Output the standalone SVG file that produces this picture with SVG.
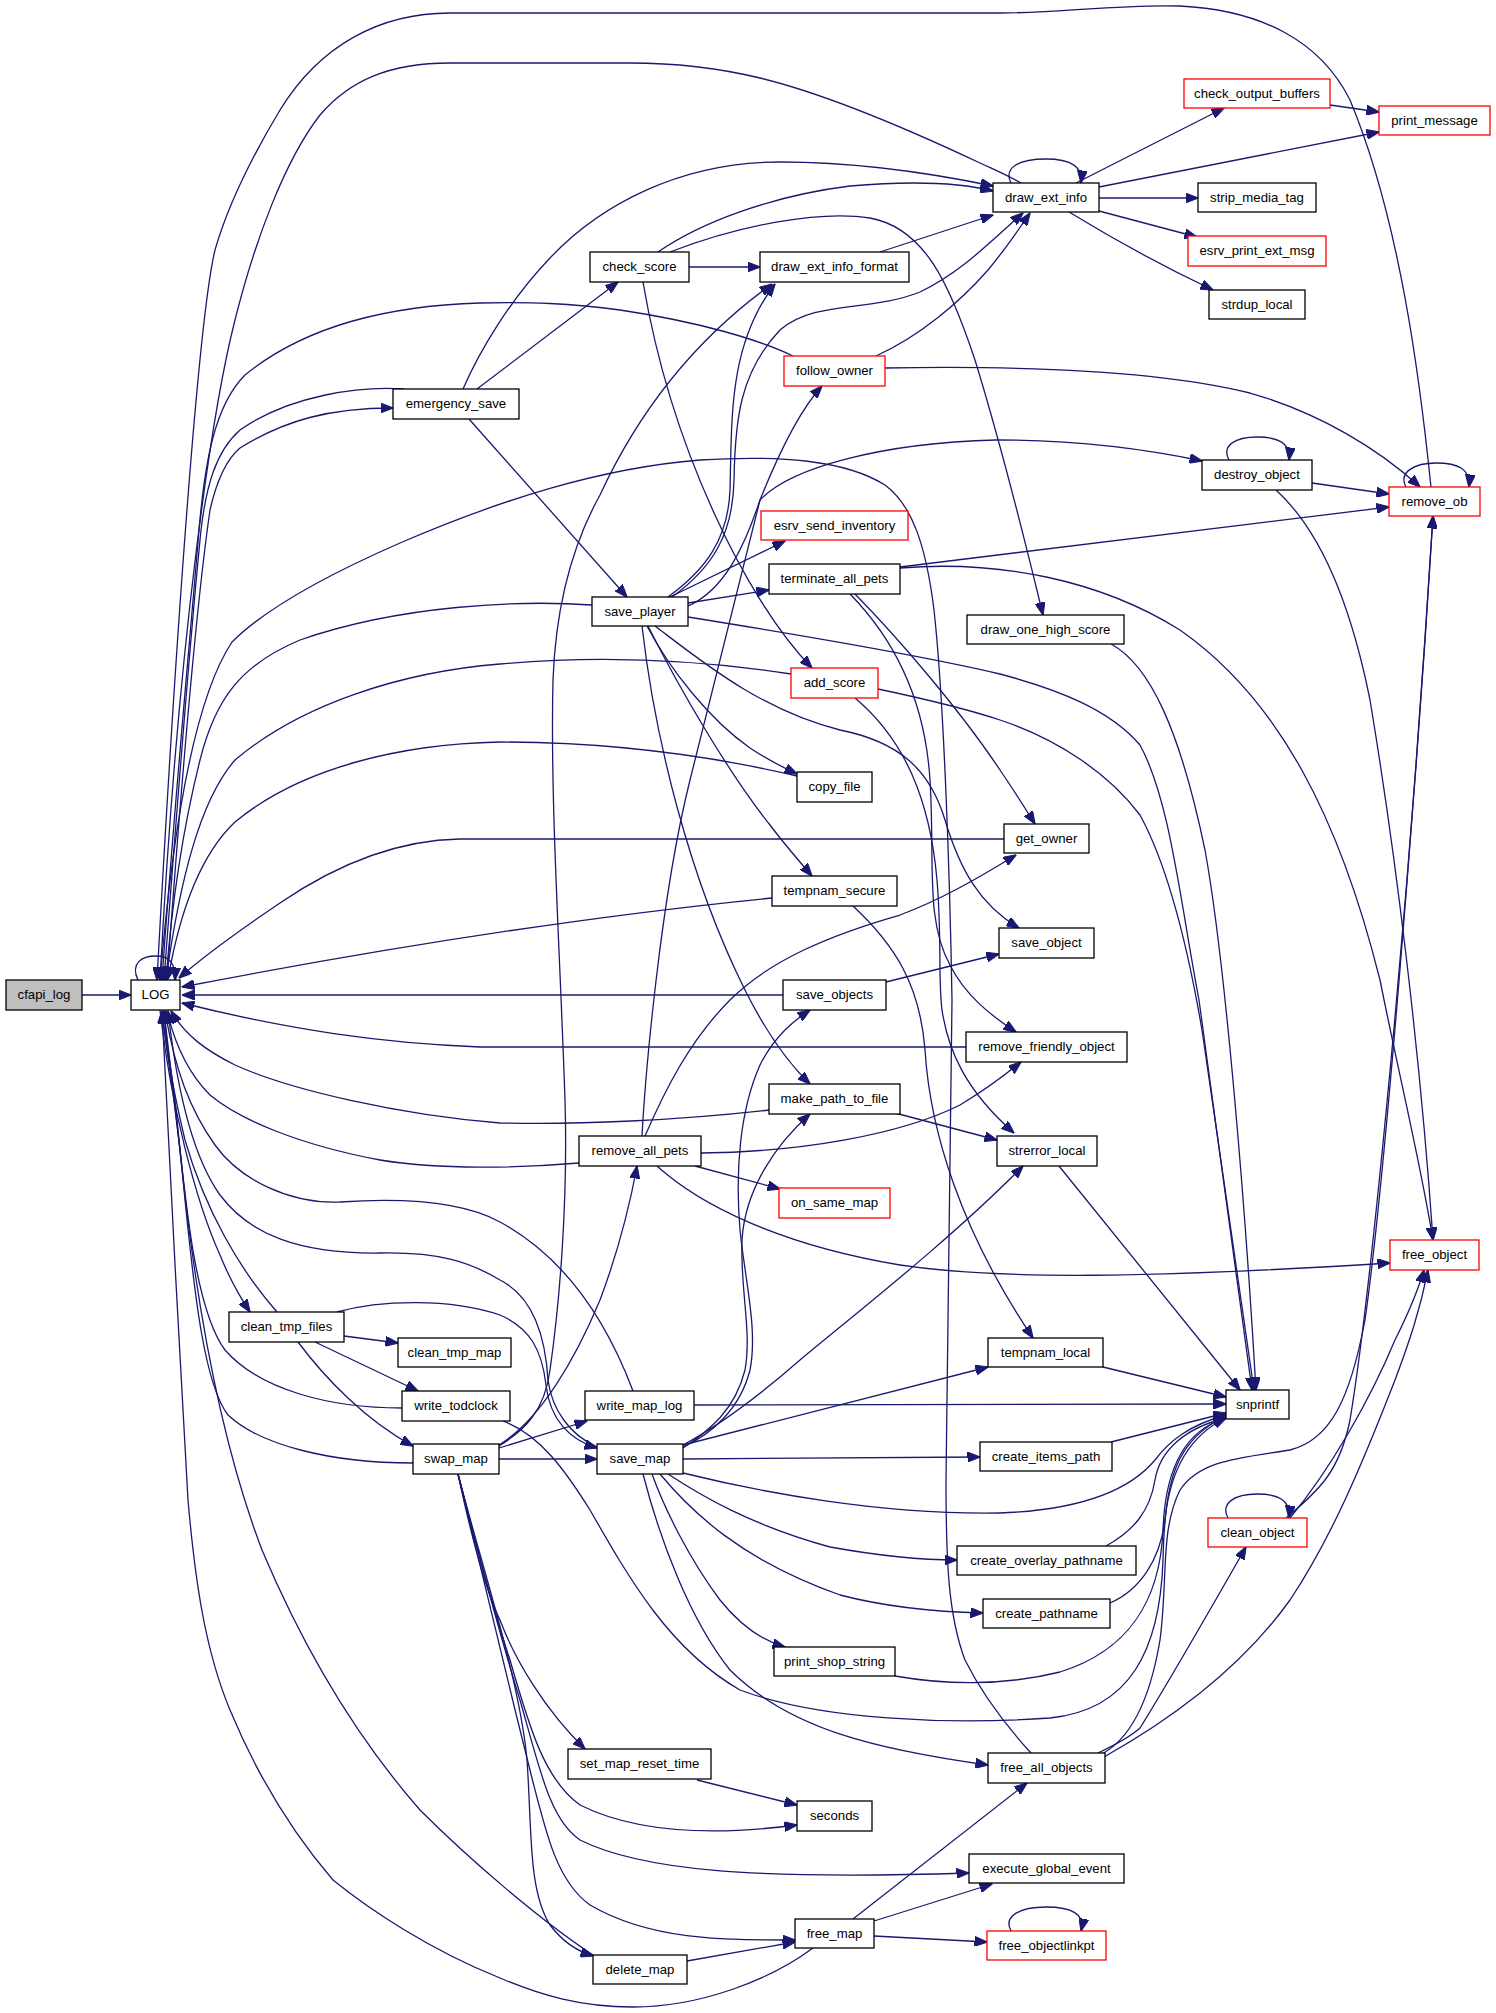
<svg xmlns="http://www.w3.org/2000/svg" width="1496" height="2013" viewBox="0 0 1496 2013">
<defs>
<marker id="a" viewBox="0 0 13 10" markerWidth="13" markerHeight="10" refX="12.5" refY="5" orient="auto" markerUnits="userSpaceOnUse"><path d="M0,0L13,5L0,10z" fill="#191970" stroke="#191970" stroke-width="1"/></marker>
</defs>
<style>
.n rect{fill:#fff;stroke:#000;stroke-width:1.3}
.n.r rect{stroke:#ff0000}
.n.g rect{fill:#bfbfbf}
.n text{font-family:"Liberation Sans",Arial,Helvetica,sans-serif;font-size:13.2px;text-anchor:middle;fill:#000}
#edges path{fill:none;stroke:#191970;stroke-width:1.3;marker-end:url(#a)}
</style>
<rect x="0" y="0" width="1496" height="2013" fill="#fff"/>
<g id="edges">
<path d="M82,995 L131,995"/>
<path d="M138,980 C130,963 142,956 156,956 C168,956 176,962 175,980"/>
<path d="M1431,487 C1420,380 1400,220 1350,100 C1320,40 1260,10 1180,6 C1120,4 1060,13 1000,13 L450,13 C380,13 320,45 280,110 C250,160 228,205 215,250 C198,320 175,650 157,980"/>
<path d="M1021,183 C1005,174 995,170 980,163 C910,130 830,95 760,78 C710,66 670,63 630,63 L450,63 C390,63 350,80 320,115 C285,160 255,240 235,320 C212,410 178,640 160,980"/>
<path d="M793,356 C760,340 700,322 620,310 C570,303 530,302 480,303 C380,306 300,330 245,375 C215,405 205,460 199,530 C190,640 173,820 162,980"/>
<path d="M404,389 C360,386 290,395 240,430 C215,452 206,488 201,530 C190,640 176,820 164,980"/>
<path d="M167,980 C180,800 197,600 210,510 C218,475 228,458 240,448 C285,420 330,408 393,408"/>
<path d="M1011,183 C1003,167 1020,159 1046,159 C1070,159 1083,166 1081,183"/>
<path d="M1076,183 L1224,108"/>
<path d="M1099,187 L1379,132"/>
<path d="M1099,198 L1198,198"/>
<path d="M1099,211 L1197,237"/>
<path d="M1069,212 C1110,237 1160,265 1213,290"/>
<path d="M1330,105 L1379,112"/>
<path d="M477,389 L618,282"/>
<path d="M469,419 L627,597"/>
<path d="M463,389 C480,350 510,300 550,258 C600,205 680,162 780,162 C860,162 940,175 993,186"/>
<path d="M658,252 C700,223 770,196 850,186 C920,180 965,184 993,191"/>
<path d="M689,267 L760,267"/>
<path d="M670,252 C740,225 820,210 870,218 C925,228 950,285 975,360 C995,425 1020,520 1043,615"/>
<path d="M643,282 C658,370 685,450 715,515 C740,570 775,630 812,668"/>
<path d="M880,252 L993,215"/>
<path d="M876,356 C920,336 960,302 988,270 C1003,252 1017,232 1030,213"/>
<path d="M885,368 C1000,366 1150,368 1250,393 C1320,413 1380,450 1420,487"/>
<path d="M668,597 C705,570 728,540 730,490 C732,420 728,345 775,284"/>
<path d="M672,597 C712,568 733,535 734,480 C735,420 740,372 780,330 C815,300 870,312 920,292 C962,272 992,240 1023,213"/>
<path d="M688,606 C725,590 745,545 760,500 C790,468 880,443 996,440 C1080,440 1150,450 1202,461"/>
<path d="M670,597 L785,541"/>
<path d="M688,603 L769,590"/>
<path d="M592,605 C520,600 400,605 300,640 C240,665 215,700 200,760 C185,820 172,900 166,980"/>
<path d="M688,617 C800,635 920,655 1000,674 C1060,690 1110,710 1140,745 C1170,800 1180,900 1199,1000 C1215,1120 1240,1300 1252,1390"/>
<path d="M647,626 C670,670 710,720 750,748 C765,758 778,765 797,774"/>
<path d="M648,626 C680,690 730,775 770,825 C785,845 800,862 812,876"/>
<path d="M642,626 C655,740 690,880 745,990 C765,1030 785,1060 810,1084"/>
<path d="M655,626 C700,660 760,710 840,730 C900,742 930,770 945,820 C960,870 980,905 1019,928"/>
<path d="M855,594 C900,640 960,710 1000,770 C1015,792 1025,808 1035,824"/>
<path d="M850,594 C895,640 925,700 930,780 C935,860 925,920 950,965 C965,995 990,1015 1016,1032"/>
<path d="M900,567 L1389,507"/>
<path d="M900,568 C1000,560 1100,580 1180,630 C1280,700 1340,820 1380,980 C1400,1080 1420,1160 1433,1240"/>
<path d="M1229,460 C1221,445 1236,437 1257,437 C1278,437 1291,443 1289,460"/>
<path d="M1312,483 L1389,494"/>
<path d="M1276,490 C1320,530 1350,600 1370,700 C1395,850 1420,1050 1433,1240"/>
<path d="M1406,487 C1398,472 1415,463 1436,463 C1458,463 1471,469 1469,487"/>
<path d="M1031,1753 C1010,1730 985,1700 965,1660 C948,1615 946,1560 946,1480 L952,1000 C950,880 944,700 934,610 C926,545 912,505 885,485 C845,460 780,455 700,460 C600,468 500,500 400,543 C320,578 262,612 232,642 C200,690 175,800 160,980"/>
<path d="M1004,839 L460,839 C400,840 340,862 280,903 C240,930 205,955 179,978"/>
<path d="M797,776 C720,758 620,742 500,742 C400,744 300,768 235,822 C200,855 180,910 168,979"/>
<path d="M791,674 C700,660 600,655 500,664 C400,672 300,705 235,760 C200,800 180,880 166,979"/>
<path d="M772,898 C600,915 400,945 182,987"/>
<path d="M853,906 C895,945 920,985 925,1050 C930,1130 960,1230 1033,1338"/>
<path d="M783,995 L182,995"/>
<path d="M886,982 L999,954"/>
<path d="M966,1047 L480,1047 C380,1043 290,1030 182,1003"/>
<path d="M769,1110 C680,1120 580,1125 500,1123 C400,1115 290,1090 235,1065 C205,1050 185,1035 171,1011"/>
<path d="M895,1113 L997,1140"/>
<path d="M579,1163 C520,1168 440,1170 380,1160 C300,1145 240,1120 210,1095 C190,1075 175,1045 167,1011"/>
<path d="M695,1166 L780,1189"/>
<path d="M701,1153 C800,1152 900,1135 960,1105 C985,1090 1005,1075 1021,1062"/>
<path d="M657,1166 C700,1205 780,1245 900,1265 C1000,1280 1150,1278 1390,1263"/>
<path d="M645,1136 C665,1090 690,1040 730,1000 C770,960 830,935 900,915 C940,900 975,880 1016,855"/>
<path d="M642,1136 C645,1080 660,900 690,780 C715,680 740,580 760,500 C780,450 800,410 822,386"/>
<path d="M1059,1166 L1240,1390"/>
<path d="M1103,1367 L1226,1397"/>
<path d="M694,1405 L1226,1404"/>
<path d="M1111,1442 L1226,1413"/>
<path d="M633,1391 C610,1330 570,1260 500,1222 C460,1200 400,1198 340,1202 C290,1204 240,1180 215,1145 C190,1110 175,1070 165,1011"/>
<path d="M277,1312 C240,1270 205,1210 185,1140 C173,1090 166,1050 162,1011"/>
<path d="M160,1010 C170,1100 195,1200 220,1255 C230,1280 240,1297 250,1312"/>
<path d="M344,1336 L398,1343"/>
<path d="M315,1342 L418,1391"/>
<path d="M298,1342 C325,1378 365,1420 413,1446"/>
<path d="M337,1312 C380,1300 450,1298 500,1315 C530,1328 542,1350 546,1385 C550,1420 570,1440 597,1448"/>
<path d="M597,1447 C570,1435 552,1410 548,1380 C545,1330 530,1295 500,1280 C470,1262 440,1252 380,1253 C300,1254 250,1235 220,1195 C195,1160 178,1100 168,1011"/>
<path d="M402,1408 C330,1408 260,1390 225,1350 C195,1310 185,1200 175,1100 C170,1060 165,1035 164,1011"/>
<path d="M503,1421 C540,1435 565,1470 590,1510 C630,1580 670,1650 740,1690 C820,1720 950,1725 1050,1718 C1130,1710 1160,1650 1163,1560 C1165,1480 1175,1440 1226,1416"/>
<path d="M413,1463 C330,1463 260,1445 228,1415 C205,1385 195,1300 185,1200 C178,1120 168,1060 162,1011"/>
<path d="M499,1459 L597,1459"/>
<path d="M499,1448 L587,1421"/>
<path d="M499,1445 C540,1420 575,1360 600,1300 C615,1260 628,1215 637,1166"/>
<path d="M499,1446 C525,1430 545,1410 550,1370 C560,1300 568,1200 565,1100 C560,950 550,800 553,680 C556,600 575,540 600,495 C630,430 680,350 772,284"/>
<path d="M458,1474 C470,1530 485,1590 500,1620 C515,1660 545,1710 585,1749"/>
<path d="M458,1474 C475,1540 490,1600 510,1660 C530,1730 545,1780 580,1805 C640,1835 720,1835 797,1825"/>
<path d="M458,1474 C475,1540 495,1620 520,1700 C540,1770 550,1820 580,1840 C640,1870 750,1880 969,1873"/>
<path d="M458,1474 C475,1545 500,1650 525,1750 C545,1830 555,1880 590,1905 C650,1940 720,1940 795,1940"/>
<path d="M458,1474 C480,1560 520,1680 527,1760 C532,1830 528,1890 550,1925 C565,1945 580,1952 593,1956"/>
<path d="M593,1955 C540,1920 470,1860 420,1810 C350,1730 300,1640 262,1550 C220,1440 195,1300 180,1150 C172,1080 167,1040 164,1011"/>
<path d="M813,1948 C770,1980 700,2007 633,2007 C580,2007 540,1995 500,1978 C430,1950 370,1910 333,1880 C290,1830 255,1770 230,1710 C205,1650 195,1580 188,1500 C180,1350 168,1150 162,1011"/>
<path d="M687,1961 L795,1942"/>
<path d="M853,1919 L1027,1783"/>
<path d="M874,1921 L992,1884"/>
<path d="M874,1936 L987,1942"/>
<path d="M1011,1931 C1003,1916 1020,1907 1046,1907 C1072,1907 1085,1914 1081,1931"/>
<path d="M697,1780 L797,1805"/>
<path d="M643,1474 C660,1540 690,1620 730,1670 C790,1730 880,1750 988,1765"/>
<path d="M652,1474 C665,1510 690,1560 720,1600 C740,1625 760,1640 785,1647"/>
<path d="M660,1474 C690,1510 740,1560 840,1595 C890,1608 940,1612 983,1613"/>
<path d="M668,1474 C700,1495 750,1525 830,1547 C880,1556 920,1560 957,1560"/>
<path d="M683,1473 C760,1492 880,1515 1000,1513 C1080,1510 1130,1490 1155,1460 C1170,1440 1190,1425 1226,1415"/>
<path d="M683,1459 L980,1457"/>
<path d="M683,1445 L988,1367"/>
<path d="M683,1445 C720,1425 760,1395 800,1360 C860,1310 950,1240 1023,1166"/>
<path d="M683,1447 C710,1435 740,1410 750,1370 C758,1330 745,1280 740,1230 C735,1170 740,1110 760,1065 C775,1035 795,1020 810,1010"/>
<path d="M683,1448 C710,1430 735,1410 745,1370 C752,1330 740,1290 742,1240 C745,1190 775,1145 810,1114"/>
<path d="M1098,1753 C1115,1745 1130,1737 1140,1728 C1170,1680 1210,1610 1246,1547"/>
<path d="M1100,1755 C1130,1740 1150,1700 1160,1640 C1168,1580 1160,1530 1180,1490 C1200,1460 1240,1458 1290,1450 C1330,1440 1350,1400 1365,1320 C1385,1180 1415,800 1433,516"/>
<path d="M1104,1757 C1170,1720 1240,1670 1290,1600 C1330,1540 1360,1470 1395,1380 C1410,1340 1420,1310 1428,1270"/>
<path d="M1228,1518 C1220,1503 1235,1494 1257,1494 C1278,1494 1291,1500 1289,1518"/>
<path d="M1286,1518 C1320,1490 1340,1470 1350,1420 C1370,1300 1410,900 1433,516"/>
<path d="M1290,1518 C1330,1470 1370,1400 1395,1340 C1410,1310 1418,1290 1424,1270"/>
<path d="M1106,1546 C1135,1530 1150,1510 1155,1480 C1160,1450 1185,1428 1226,1418"/>
<path d="M1110,1603 C1140,1590 1160,1560 1165,1520 C1170,1470 1190,1435 1226,1418"/>
<path d="M895,1676 C940,1684 1000,1687 1060,1672 C1130,1650 1160,1600 1163,1530 C1165,1470 1185,1430 1226,1418"/>
<path d="M1111,644 C1150,665 1180,730 1205,850 C1225,960 1245,1200 1256,1390"/>
<path d="M878,689 C930,700 970,710 1000,720 C1060,740 1110,775 1140,815 C1170,870 1190,960 1202,1030 C1220,1150 1240,1300 1254,1390"/>
<path d="M855,698 C905,740 930,800 937,880 C942,940 938,980 942,1010 C948,1050 965,1090 1014,1133"/>
</g>
<g id="n-cfapi_log" class="n g"><rect x="6" y="980" width="76" height="30"/><text x="44" y="998.5">cfapi_log</text></g>
<g id="n-LOG" class="n"><rect x="131" y="980" width="49" height="30"/><text x="155.5" y="998.5">LOG</text></g>
<g id="n-emergency_save" class="n"><rect x="393" y="389" width="126" height="30"/><text x="456" y="407.5">emergency_save</text></g>
<g id="n-check_score" class="n"><rect x="590" y="252" width="99" height="30"/><text x="639.5" y="270.5">check_score</text></g>
<g id="n-draw_ext_info_format" class="n"><rect x="760" y="252" width="149" height="30"/><text x="834.5" y="270.5">draw_ext_info_format</text></g>
<g id="n-draw_ext_info" class="n"><rect x="993" y="183" width="106" height="29"/><text x="1046" y="201.5">draw_ext_info</text></g>
<g id="n-check_output_buffers" class="n r"><rect x="1184" y="79" width="146" height="29"/><text x="1257" y="97.5">check_output_buffers</text></g>
<g id="n-print_message" class="n r"><rect x="1379" y="106" width="111" height="29"/><text x="1434.5" y="124.5">print_message</text></g>
<g id="n-strip_media_tag" class="n"><rect x="1198" y="183" width="118" height="29"/><text x="1257" y="201.5">strip_media_tag</text></g>
<g id="n-esrv_print_ext_msg" class="n r"><rect x="1188" y="236" width="138" height="30"/><text x="1257" y="254.5">esrv_print_ext_msg</text></g>
<g id="n-strdup_local" class="n"><rect x="1209" y="290" width="96" height="29"/><text x="1257" y="308.5">strdup_local</text></g>
<g id="n-follow_owner" class="n r"><rect x="784" y="356" width="101" height="30"/><text x="834.5" y="374.5">follow_owner</text></g>
<g id="n-destroy_object" class="n"><rect x="1202" y="460" width="110" height="30"/><text x="1257" y="478.5">destroy_object</text></g>
<g id="n-remove_ob" class="n r"><rect x="1389" y="487" width="91" height="29"/><text x="1434.5" y="505.5">remove_ob</text></g>
<g id="n-esrv_send_inventory" class="n r"><rect x="761" y="511" width="147" height="29"/><text x="834.5" y="529.5">esrv_send_inventory</text></g>
<g id="n-terminate_all_pets" class="n"><rect x="769" y="564" width="131" height="30"/><text x="834.5" y="582.5">terminate_all_pets</text></g>
<g id="n-save_player" class="n"><rect x="592" y="597" width="96" height="29"/><text x="640" y="615.5">save_player</text></g>
<g id="n-draw_one_high_score" class="n"><rect x="967" y="615" width="157" height="29"/><text x="1045.5" y="633.5">draw_one_high_score</text></g>
<g id="n-add_score" class="n r"><rect x="791" y="668" width="87" height="30"/><text x="834.5" y="686.5">add_score</text></g>
<g id="n-copy_file" class="n"><rect x="797" y="772" width="75" height="30"/><text x="834.5" y="790.5">copy_file</text></g>
<g id="n-get_owner" class="n"><rect x="1004" y="824" width="85" height="29"/><text x="1046.5" y="842.5">get_owner</text></g>
<g id="n-tempnam_secure" class="n"><rect x="772" y="876" width="125" height="30"/><text x="834.5" y="894.5">tempnam_secure</text></g>
<g id="n-save_object" class="n"><rect x="999" y="928" width="95" height="30"/><text x="1046.5" y="946.5">save_object</text></g>
<g id="n-save_objects" class="n"><rect x="783" y="980" width="103" height="30"/><text x="834.5" y="998.5">save_objects</text></g>
<g id="n-remove_friendly_object" class="n"><rect x="966" y="1032" width="161" height="30"/><text x="1046.5" y="1050.5">remove_friendly_object</text></g>
<g id="n-make_path_to_file" class="n"><rect x="769" y="1084" width="131" height="30"/><text x="834.5" y="1102.5">make_path_to_file</text></g>
<g id="n-remove_all_pets" class="n"><rect x="579" y="1136" width="122" height="30"/><text x="640" y="1154.5">remove_all_pets</text></g>
<g id="n-strerror_local" class="n"><rect x="997" y="1136" width="100" height="30"/><text x="1047" y="1154.5">strerror_local</text></g>
<g id="n-on_same_map" class="n r"><rect x="779" y="1188" width="111" height="30"/><text x="834.5" y="1206.5">on_same_map</text></g>
<g id="n-free_object" class="n r"><rect x="1390" y="1240" width="89" height="30"/><text x="1434.5" y="1258.5">free_object</text></g>
<g id="n-clean_tmp_files" class="n"><rect x="229" y="1312" width="115" height="30"/><text x="286.5" y="1330.5">clean_tmp_files</text></g>
<g id="n-clean_tmp_map" class="n"><rect x="398" y="1338" width="113" height="29"/><text x="454.5" y="1356.5">clean_tmp_map</text></g>
<g id="n-tempnam_local" class="n"><rect x="988" y="1338" width="115" height="29"/><text x="1045.5" y="1356.5">tempnam_local</text></g>
<g id="n-snprintf" class="n"><rect x="1226" y="1390" width="63" height="29"/><text x="1257.5" y="1408.5">snprintf</text></g>
<g id="n-write_todclock" class="n"><rect x="402" y="1391" width="108" height="30"/><text x="456" y="1409.5">write_todclock</text></g>
<g id="n-write_map_log" class="n"><rect x="585" y="1391" width="109" height="29"/><text x="639.5" y="1409.5">write_map_log</text></g>
<g id="n-swap_map" class="n"><rect x="413" y="1444" width="86" height="30"/><text x="456" y="1462.5">swap_map</text></g>
<g id="n-save_map" class="n"><rect x="597" y="1444" width="86" height="30"/><text x="640" y="1462.5">save_map</text></g>
<g id="n-create_items_path" class="n"><rect x="980" y="1442" width="132" height="29"/><text x="1046" y="1460.5">create_items_path</text></g>
<g id="n-clean_object" class="n r"><rect x="1208" y="1518" width="99" height="29"/><text x="1257.5" y="1536.5">clean_object</text></g>
<g id="n-create_overlay_pathname" class="n"><rect x="957" y="1546" width="179" height="29"/><text x="1046.5" y="1564.5">create_overlay_pathname</text></g>
<g id="n-create_pathname" class="n"><rect x="983" y="1599" width="127" height="29"/><text x="1046.5" y="1617.5">create_pathname</text></g>
<g id="n-print_shop_string" class="n"><rect x="774" y="1647" width="121" height="29"/><text x="834.5" y="1665.5">print_shop_string</text></g>
<g id="n-set_map_reset_time" class="n"><rect x="568" y="1749" width="143" height="30"/><text x="639.5" y="1767.5">set_map_reset_time</text></g>
<g id="n-free_all_objects" class="n"><rect x="988" y="1753" width="117" height="30"/><text x="1046.5" y="1771.5">free_all_objects</text></g>
<g id="n-seconds" class="n"><rect x="797" y="1801" width="75" height="30"/><text x="834.5" y="1819.5">seconds</text></g>
<g id="n-execute_global_event" class="n"><rect x="969" y="1854" width="155" height="29"/><text x="1046.5" y="1872.5">execute_global_event</text></g>
<g id="n-free_map" class="n"><rect x="795" y="1919" width="79" height="29"/><text x="834.5" y="1937.5">free_map</text></g>
<g id="n-free_objectlinkpt" class="n r"><rect x="987" y="1931" width="119" height="29"/><text x="1046.5" y="1949.5">free_objectlinkpt</text></g>
<g id="n-delete_map" class="n"><rect x="593" y="1955" width="94" height="29"/><text x="640" y="1973.5">delete_map</text></g>
</svg>
